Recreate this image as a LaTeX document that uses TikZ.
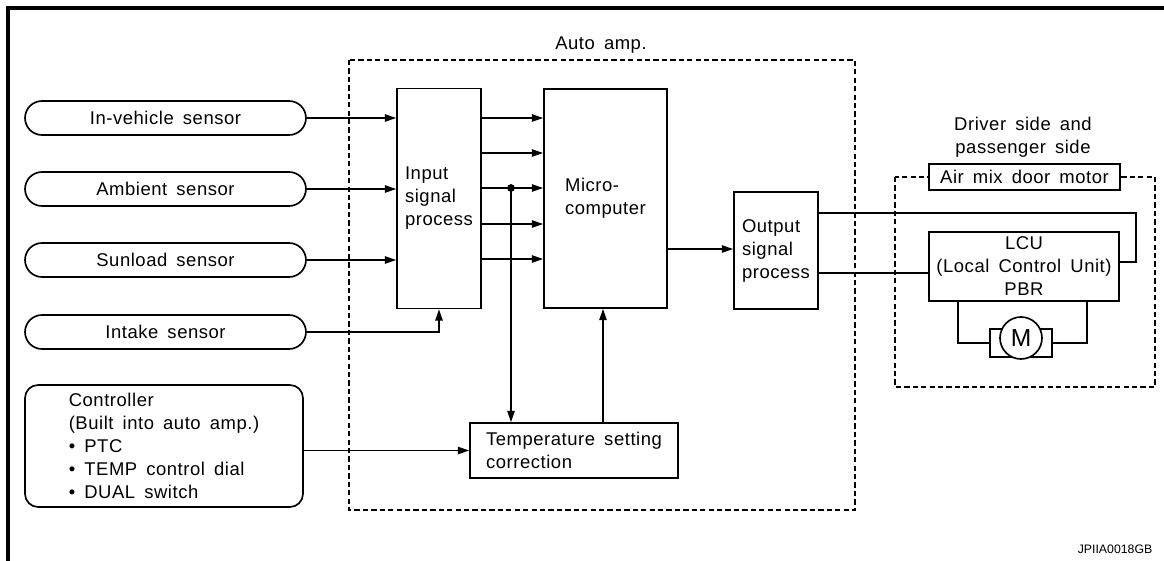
\documentclass[tikz,border=0pt]{standalone}
\usepackage{fontspec}
\setmainfont{Liberation Sans}[LetterSpace=3,WordSpace=1.6]
\newfontfamily\codefont{Liberation Sans}
\usetikzlibrary{arrows.meta}
\tikzstyle{sensor} = [draw, rounded corners=0.34cm, minimum width=5.62cm, minimum height=0.68cm, inner sep=0pt]
\tikzstyle{block} = [draw, fill=white, align=left, inner sep=0pt]
\tikzstyle{dashbox} = [line width=0.7pt, dash pattern=on 3pt off 1.8pt]
\tikzstyle{arr} = [-{Triangle[length=6.5pt,width=4.2pt]}]

\begin{document}
\begin{tikzpicture}[x=0.02cm,y=-0.02cm,line width=0.95pt,font=\fontsize{10.5}{13.1}\selectfont]
	\useasboundingbox (0,0) rectangle (1164,561);
	\draw[line width=1.8pt] (1164,8) -- (8,8) -- (8,561);
	\draw[dashbox] (349,60) rectangle (855,510);
	\node (amp) at (601,45) {Auto amp.};
	
	\node[sensor] (s1) at (165.5,118) {In-vehicle sensor};
	\node[sensor] (s2) at (165.5,189) {Ambient sensor};
	\node[sensor] (s3) at (165.5,260) {Sunload sensor};
	\node[sensor] (s4) at (165.5,332) {Intake sensor};
	\node[draw, rounded corners=0.26cm, minimum width=5.56cm, minimum height=2.44cm, align=left] (ctl) at (164,446) {Controller\\(Built into auto amp.)\\\textbullet\ PTC\\\textbullet\ TEMP control dial\\\textbullet\ DUAL switch};
	
	\node[block, minimum width=1.68cm, minimum height=4.4cm] (inp) at (439,198.5) {Input\\signal\\process};
	\node[block, minimum width=2.46cm, minimum height=4.38cm] (mc) at (605.5,198.5) {Micro-\\computer};
	\node[block, minimum width=1.68cm, minimum height=2.34cm] (out) at (776,250.5) {Output\\signal\\process};
	\node[block, minimum width=4.16cm, minimum height=1.1cm] (tmp) at (574,450.5) {Temperature setting\\correction};
	
	\node[align=center] (side) at (1023,137) {Driver side and\\passenger side};
	\draw[dashbox] (895,177) rectangle (1155,387);
	\node[block, minimum width=3.82cm, minimum height=0.52cm] (mix) at (1024.5,177) {Air mix door motor};
	\node[block, align=center, minimum width=3.8cm, minimum height=1.38cm] (lcu) at (1024,266.5) {LCU\\(Local Control Unit)\\PBR};
	\node[draw, minimum width=1.24cm, minimum height=0.56cm, inner sep=0pt] (mot) at (1021,343) {};
	\node[draw, fill=white, circle, minimum size=0.84cm, inner sep=0pt, font=\fontsize{14}{14}\selectfont] (m) at (1021,338) {M};
	
	\foreach \s in {s1,s2,s3}
		\draw[arr] (\s.east) -- (\s.east -| inp.west);
	\draw[arr] (s4.east) -| (inp.south);
	\foreach \y in {118,153,188,224,259}
		\draw[arr] (inp.east |- 0,\y) -- (mc.west |- 0,\y);
	\coordinate (tap) at (511,188);
	\fill (tap) circle (2.2pt);
	\draw[arr] (tap) -- (tap |- tmp.north);
	\draw[arr] (tmp.north -| 603,0) -- (mc.south -| 603,0);
	\draw[arr] (ctl.east |- tmp.west) -- (tmp.west);
	\draw[arr] (mc.east |- 0,249) -- (out.west |- 0,249);
	\draw (out.east |- 0,213) -| (1136,262) -- (lcu.east |- 0,262);
	\draw (out.east |- 0,273) -- (lcu.west |- 0,273);
	\draw (lcu.south -| 958,0) |- (mot.west);
	\draw (lcu.south -| 1087,0) |- (mot.east);
	
	\node[font=\codefont\fontsize{7}{8}\selectfont, anchor=east] (code) at (1159,549) {JPIIA0018GB};
\end{tikzpicture}
\end{document}
